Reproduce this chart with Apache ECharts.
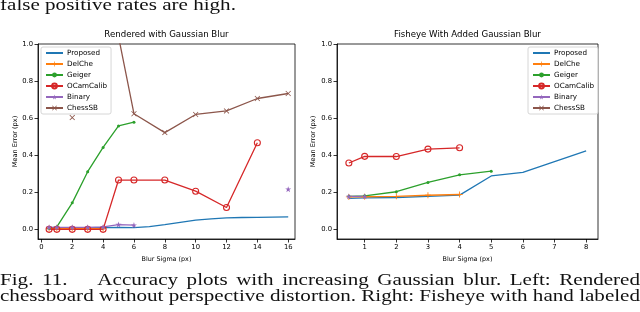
<!DOCTYPE html>
<html><head><meta charset="utf-8">
<script src="https://cdn.jsdelivr.net/npm/echarts@6/dist/echarts.min.js"></script>
<style>html,body{margin:0;padding:0;background:#fff}#c{width:640px;height:312px}</style>
</head><body><div id="c"></div>
<script>
// ---------- data ----------
const seriesNames = ['Proposed','DelChe','Geiger','OCamCalib','Binary','ChessSB'];
// left: rendered with gaussian blur
const sigmaLDense = [0.5,1,2,3,4,5,6,7,8,9,10,11,12,13,14,15,16];
const proposedL = [0.005,0.006,0.007,0.008,0.009,0.010,0.009,0.015,0.025,0.038,0.050,0.057,0.062,0.064,0.065,0.066,0.067];
const sigmaL = [0.5,1,2,3,4,5,6,8,10,12,14,16];
const delcheL = [0.004,0.004,0.004,0.004,0.004,null,null,null,null,null,null,null];
const geigerL = [0.006,0.013,0.143,0.311,0.442,0.558,0.578,null,null,null,null,null];
const ocamL = [0.0,0.0,0.0,0.0,0.0,0.266,0.266,0.266,0.206,0.118,0.467,null];
const binaryL = [0.011,0.011,0.011,0.011,0.013,0.026,0.023,null,null,null,null,0.217];
const chessL = [null,null,0.603,null,null,1.04,0.624,0.522,0.620,0.639,0.706,0.733];
// right: fisheye with added gaussian blur
const sigmaR = [0.5,1,2,3,4,5,6,7,8];
const proposedR = [0.167,0.170,0.172,0.178,0.185,0.288,0.307,0.365,0.423];
const delcheR = [0.175,0.176,0.178,0.184,0.188,null,null,null,null];
const geigerR = [0.178,0.181,0.203,0.253,0.294,0.314,null,null,null];
const ocamR = [0.358,0.394,0.393,0.433,0.440,null,null,null,null];
const binaryR = [0.178,0.178,null,null,null,null,null,null,null];
const chessR = [null,null,null,null,null,null,null,null,null];
const yTicks = [0,0.2,0.4,0.6,0.8,1.0];
const xTicksL = [0,2,4,6,8,10,12,14,16];
const xTicksR = [1,2,3,4,5,6,7,8];
const titles = ['Rendered with Gaussian Blur','Fisheye With Added Gaussian Blur'];
const xName = 'Blur Sigma (px)';
const yName = 'Mean Error (px)';
const topLine = 'false positive rates are high.';
const captionLines = [
  'Fig. 11. Accuracy plots with increasing Gaussian blur. Left: Rendered',
  'chessboard without perspective distortion. Right: Fisheye with hand labeled'
];

// ---------- styles ----------
const colors = ['#1f77b4','#ff7f0e','#2ca02c','#d62728','#9467bd','#8c564b'];
const plusPath = 'path://M4.3,0H5.7V4.3H10V5.7H5.7V10H4.3V5.7H0V4.3H4.3Z';
const xPath = 'path://M0,1L1,0L5,4L9,0L10,1L6,5L10,9L9,10L5,6L1,10L0,9L4,5Z';
const starPath = 'path://M5,0L6.18,3.62L10,3.62L6.91,5.86L8.09,9.5L5,7.24L1.91,9.5L3.09,5.86L0,3.62L3.82,3.62Z';
// marker-less series: a thin bar that merges with the legend line
const barIcon = 'path://M0,0L0.01,0L0,0.01Z M0,4.3H10V5.7H0Z M10,10L9.99,10L10,9.99Z';
const FONT = 'DejaVu Sans';
const symbolSpec = [
  {symbol:barIcon, size:6, hide:true},
  {symbol:plusPath, size:6},
  {symbol:'circle', size:3},
  {symbol:'circle', size:6, hollow:true},
  {symbol:starPath, size:6},
  {symbol:xPath, size:5.5}
];

function pairs(xs, ys){ return xs.map((x,i)=>[x, ys[i]]); }

function mkSeries(idx, xs, ys, gi){
  const s = symbolSpec[idx];
  const col = colors[idx];
  return {
    type:'line', name: seriesNames[idx], xAxisIndex: gi, yAxisIndex: gi,
    data: pairs(xs, ys), symbol: s.symbol, symbolSize: s.size,
    showSymbol: !s.hide, connectNulls:false, clip:true,
    lineStyle:{color:col, width:1.3},
    itemStyle: s.hollow ? {color:'rgba(255,255,255,0)', borderColor:col, borderWidth:1.1}
                        : {color:col, borderWidth:0},
    emphasis:{disabled:true}, animation:false
  };
}

const series = [
  mkSeries(0, sigmaLDense, proposedL, 0),
  mkSeries(1, sigmaL, delcheL, 0),
  mkSeries(2, sigmaL, geigerL, 0),
  mkSeries(3, sigmaL, ocamL, 0),
  mkSeries(4, sigmaL, binaryL, 0),
  mkSeries(5, sigmaL, chessL, 0),
  mkSeries(0, sigmaR, proposedR, 1),
  mkSeries(1, sigmaR, delcheR, 1),
  mkSeries(2, sigmaR, geigerR, 1),
  mkSeries(3, sigmaR, ocamR, 1),
  mkSeries(4, sigmaR, binaryR, 1),
  mkSeries(5, sigmaR, chessR, 1)
];

function xAxis(gi, min, max, ticks){
  return {
    type:'value', gridIndex: gi, min, max,
    name: xName, nameLocation:'middle', nameGap: 12.5,
    nameTextStyle:{fontFamily:FONT, fontSize:6.4, color:'#000'},
    axisLine:{show:true, onZero:false, lineStyle:{color:'#000', width:0.8}},
    axisTick:{show:true, inside:false, length:3.5, customValues: ticks, lineStyle:{color:'#000', width:0.8}},
    axisLabel:{show:true, margin:5, customValues: ticks, fontFamily:FONT, fontSize:6.8, color:'#000',
               formatter: v => String(v)},
    splitLine:{show:false}
  };
}
function yAxis(gi, gap){
  return {
    type:'value', gridIndex: gi, min:-0.052, max:1.0,
    name: yName, nameLocation:'middle', nameGap: gap, nameRotate: 90,
    nameTextStyle:{fontFamily:FONT, fontSize:6.6, color:'#000'},
    axisLine:{show:true, onZero:false, lineStyle:{color:'#000', width:0.8}},
    axisTick:{show:true, inside:false, length:3.5, customValues: yTicks, lineStyle:{color:'#000', width:0.8}},
    axisLabel:{show:true, margin:5, customValues: yTicks, fontFamily:FONT, fontSize:6.8, color:'#000',
               formatter: v => Number(v).toFixed(1)},
    splitLine:{show:false}
  };
}
function legend(left){
  return {
    show:true, orient:'vertical', left, top:47, padding:[1.5,4,1.5,4],
    itemWidth:17, itemHeight:6, itemGap:2,
    data: seriesNames.slice(),
    backgroundColor:'rgba(255,255,255,0.8)', borderColor:'#cccccc', borderWidth:0.8, borderRadius:2,
    textStyle:{fontFamily:FONT, fontSize:7.2, color:'#000', lineHeight:9, padding:[0,0,0,-1]},
    selectedMode:false
  };
}

// ---------- caption text (justified, horizontally scaled) ----------
const cv = document.createElement('canvas').getContext('2d');
const FS = 16;
const serif = FS + 'px "Liberation Serif"';
cv.font = serif;
const mw = t => cv.measureText(t).width;
const spW = mw(' ');
const graphics = [];
function wordsOf(s){ return s.split(' '); }
const l2 = wordsOf(captionLines[1]);
const l2w = l2.reduce((a,w)=>a+mw(w),0);
const sx = 640 / (l2w + (l2.length-1)*spW);
function placeLine(words, baseline, justify, weights){
  const ws = words.map(mw);
  const total = ws.reduce((a,b)=>a+b,0)*sx;
  let gaps = words.length-1;
  let wsum = 0; for(let i=0;i<gaps;i++) wsum += (weights && weights[i]) || 1;
  const unit = justify ? (640 - total)/wsum : spW*sx;
  let x = 0;
  words.forEach((w,i)=>{
    graphics.push({type:'text', x: x, y: baseline - 0.34*FS, scaleX: sx, silent:true,
      style:{text:w, font:serif, fill:'#111', verticalAlign:'middle', align:'left'}});
    x += ws[i]*sx + unit*(((weights && weights[i]) || 1));
  });
}
placeLine(wordsOf(topLine), 11, false);
placeLine(wordsOf(captionLines[0]), 286.5, true, [1,3.5]);
placeLine(l2, 302.5, true);

const chart = echarts.init(document.getElementById('c'), null, {renderer:'canvas'});
chart.setOption({
  animation:false,
  backgroundColor:'#fff',
  title:[
    {text:titles[0], left:166.5, top:30.5, textAlign:'center', padding:0,
     textStyle:{fontFamily:FONT, fontSize:8.6, fontWeight:'normal', color:'#000'}},
    {text:titles[1], left:467.5, top:30.5, textAlign:'center', padding:0,
     textStyle:{fontFamily:FONT, fontSize:8.6, fontWeight:'normal', color:'#000'}}
  ],
  grid:[
    {left:38, right:345, top:44, bottom:73, show:true, borderColor:'#000', borderWidth:0.8, backgroundColor:'rgba(0,0,0,0)', containLabel:false, outerBoundsMode:'none'},
    {left:337, right:42, top:44, bottom:73, show:true, borderColor:'#000', borderWidth:0.8, backgroundColor:'rgba(0,0,0,0)', containLabel:false, outerBoundsMode:'none'}
  ],
  xAxis:[ xAxis(0, -0.22, 16.44, xTicksL), xAxis(1, 0.125, 8.375, xTicksR) ],
  yAxis:[ yAxis(0, 19.5), yAxis(1, 20.5) ],
  legend:[ legend(41), legend(528) ],
  tooltip:{show:false},
  series,
  graphic: graphics
});
</script></body></html>
